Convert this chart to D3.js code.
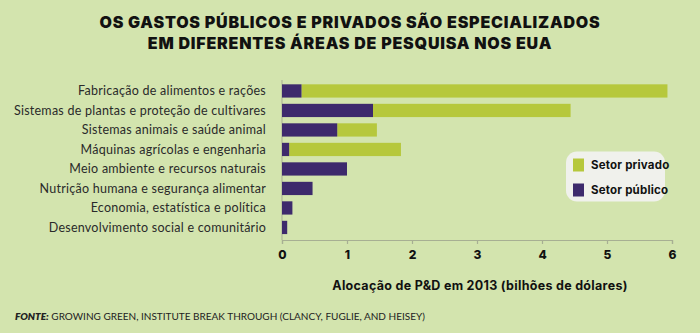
<!DOCTYPE html>
<html>
<head>
<meta charset="utf-8">
<script src="https://cdn.jsdelivr.net/npm/d3@7"></script>
<style>
  body { margin: 0; background: #d3e4ae; }
  svg { display: block; }
  .label { font-family: Lato, sans-serif; font-size: 12.5px; letter-spacing: 0.25px; fill: #2a2a2a; }
  .tick text { font-family: Inter, sans-serif; font-weight: 800; font-size: 12px; fill: #111; }
  .title { font-family: Inter, sans-serif; font-weight: 900; font-size: 16px; letter-spacing: 0.8px; fill: #111; }
  .axis-title { font-family: Inter, sans-serif; font-weight: 700; font-size: 12.5px; letter-spacing: 0.3px; fill: #111; }
  .legend text { font-family: Inter, sans-serif; font-weight: 700; font-size: 11.5px; letter-spacing: 0.2px; fill: #111; }
  .source { font-family: Lato, sans-serif; font-size: 10px; fill: #222; }
</style>
</head>
<body>
<div id="chart"></div>
<script>
// areas de pesquisa (de cima para baixo)
var areas = [
  "Fabricação de alimentos e rações",
  "Sistemas de plantas e proteção de cultivares",
  "Sistemas animais e saúde animal",
  "Máquinas agrícolas e engenharia",
  "Meio ambiente e recursos naturais",
  "Nutrição humana e segurança alimentar",
  "Economia, estatística e política",
  "Desenvolvimento social e comunitário"
];
// bilhões de dólares, 2013
var publico = [0.30, 1.40, 0.85, 0.11, 1.00, 0.47, 0.16, 0.08];
var privado = [5.63, 3.04, 0.61, 1.72, 0, 0, 0, 0];
var xTicks = [0, 1, 2, 3, 4, 5, 6];

var width = 700, height = 333;
var corPublico = "#3d2a6c", corPrivado = "#b6c83c";

var svg = d3.select("#chart").append("svg")
  .attr("width", width)
  .attr("height", height);

// título
svg.append("text").attr("class", "title")
  .attr("x", 350).attr("y", 27.5)
  .attr("text-anchor", "middle")
  .text("OS GASTOS PÚBLICOS E PRIVADOS SÃO ESPECIALIZADOS");
svg.append("text").attr("class", "title")
  .attr("x", 350).attr("y", 48.5)
  .attr("text-anchor", "middle")
  .text("EM DIFERENTES ÁREAS DE PESQUISA NOS EUA");

var x = d3.scaleLinear().domain([0, 6]).range([282, 672]);
var y = d3.scaleBand().domain(areas).range([81.2, 237.2])
  .paddingInner(0.32).paddingOuter(0.16);

var dados = areas.map(function(a, i) {
  return { area: a, publico: publico[i], privado: privado[i] };
});

// eixo x
var axisG = svg.append("g")
  .attr("transform", "translate(0,240)")
  .call(d3.axisBottom(x).tickValues(xTicks).tickSize(4).tickPadding(6).tickFormat(d3.format("d")));
axisG.select(".domain").attr("stroke", "#a7af93").attr("stroke-width", 1.2);
axisG.selectAll(".tick line").attr("stroke", "#a7af93").attr("stroke-width", 1.2);

// linha vertical no zero
svg.append("line")
  .attr("x1", x(0)).attr("x2", x(0))
  .attr("y1", 80).attr("y2", 240)
  .attr("stroke", "#a7af93").attr("stroke-width", 1);

// barras empilhadas: público primeiro, depois privado
svg.selectAll(".bar-priv")
  .data(dados.filter(function(d) { return d.privado > 0; }))
  .enter().append("rect")
  .attr("class", "bar-priv")
  .attr("x", function(d) { return x(d.publico); })
  .attr("y", function(d) { return y(d.area); })
  .attr("width", function(d) { return x(d.publico + d.privado) - x(d.publico); })
  .attr("height", y.bandwidth())
  .attr("fill", corPrivado);

svg.selectAll(".bar-pub")
  .data(dados)
  .enter().append("rect")
  .attr("class", "bar-pub")
  .attr("x", x(0))
  .attr("y", function(d) { return y(d.area); })
  .attr("width", function(d) { return x(d.publico) - x(0); })
  .attr("height", y.bandwidth())
  .attr("fill", corPublico);

// rótulos das categorias
svg.selectAll(".label")
  .data(areas)
  .enter().append("text")
  .attr("class", "label")
  .attr("x", 266)
  .attr("y", function(d) { return y(d) + y.bandwidth() / 2; })
  .attr("dy", "0.35em")
  .attr("text-anchor", "end")
  .text(function(d) { return d; });

svg.append("text").attr("class", "axis-title")
  .attr("x", 480).attr("y", 289.5)
  .attr("text-anchor", "middle")
  .text("Alocação de P&D em 2013 (bilhões de dólares)");

// legenda
var legend = svg.append("g").attr("class", "legend");
legend.append("rect")
  .attr("x", 566).attr("y", 151.5)
  .attr("width", 99).attr("height", 50)
  .attr("rx", 11)
  .attr("fill", "#f0f1ec");
var itens = [["Setor privado", corPrivado], ["Setor público", corPublico]];
itens.forEach(function(it, i) {
  legend.append("rect")
    .attr("x", 573).attr("y", 158.5 + i * 25)
    .attr("width", 11).attr("height", 13)
    .attr("fill", it[1]);
  legend.append("text")
    .attr("x", 591).attr("y", 165 + i * 24.5)
    .attr("dy", "0.35em")
    .text(it[0]);
});

// fonte
var src = svg.append("text").attr("class", "source")
  .attr("x", 15).attr("y", 320);
src.append("tspan").attr("font-weight", 800).attr("font-style", "italic").text("FONTE:");
src.append("tspan").text(" GROWING GREEN, INSTITUTE BREAK THROUGH (CLANCY, FUGLIE, AND HEISEY)");
</script>
</body>
</html>
